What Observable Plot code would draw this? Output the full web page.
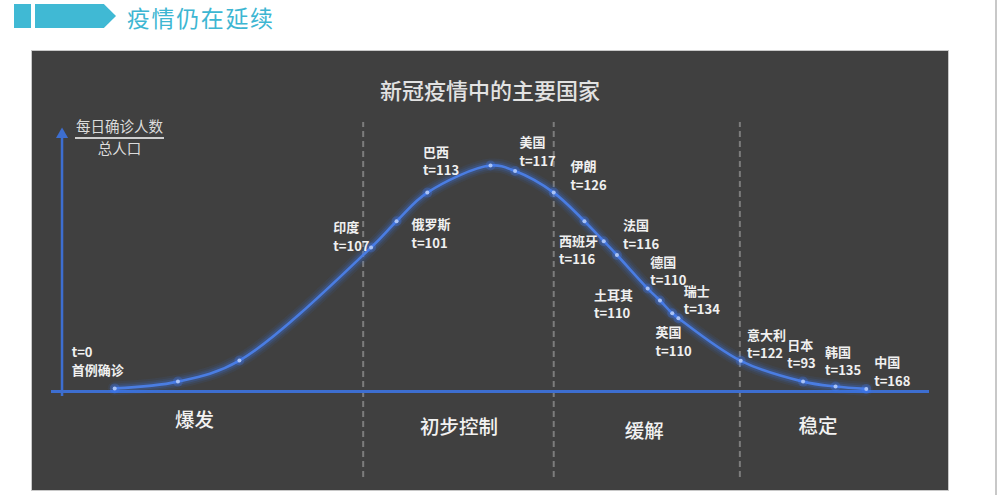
<!DOCTYPE html>
<html><head><meta charset="utf-8">
<script src="https://cdn.jsdelivr.net/npm/d3@7"></script>
<script src="https://cdn.jsdelivr.net/npm/@observablehq/plot@0.6"></script>
<style>
html,body{margin:0;padding:0;background:#fff;}
body{width:997px;height:495px;position:relative;overflow:hidden;font-family:"Noto Sans CJK SC","Noto Sans",sans-serif;}
#sq{position:absolute;left:14px;top:4px;width:17px;height:24px;background:#40b9d4}
#harrow{position:absolute;left:35px;top:4px;width:81px;height:24px;background:#40b9d4;clip-path:polygon(0 0,85% 0,100% 50%,85% 100%,0 100%)}
#htitle{position:absolute;left:127px;top:0;line-height:normal;font-size:23px;letter-spacing:1.6px;color:#3db6d2;white-space:nowrap}
#vline{position:absolute;left:995px;top:0;width:2px;height:495px;background:#c8c8c8}
#box{position:absolute;left:32px;top:51px;width:916px;height:439px;background:#404040;outline:1px solid #c8c8c8}
#ctitle{position:absolute;left:0;width:916px;top:23px;line-height:30px;text-align:center;font-size:22px;color:#e2e2e2;font-weight:500}
.yl{position:absolute;left:43px;width:89px;text-align:center;font-size:14.5px;line-height:20px;color:#dcdcdc}
#yl1{top:65px}
#yl2{top:87px}
#ylline{position:absolute;left:43px;top:86px;width:89px;height:1.5px;background:#cfcfcf}
#chart{position:absolute;left:0;top:0}
</style></head>
<body>
<div id="sq"></div><div id="harrow"></div>
<div id="htitle">疫情仍在延续</div>
<div id="vline"></div>
<div id="box">
  <div id="chart"></div>
  <div id="ctitle">新冠疫情中的主要国家</div>
  <div class="yl" id="yl1">每日确诊人数</div>
  <div id="ylline"></div>
  <div class="yl" id="yl2">总人口</div>
</div>
<script>
// Curve points (abstract time, relative daily cases / population)
const curveX = [7.2, 14.4, 21.4, 36.4, 39.3, 42.8, 50.0, 52.8, 57.2, 60.7, 62.9, 64.4, 67.9, 69.3, 70.7, 71.4, 78.5, 85.6, 89.3, 92.8];
const curveY = [1.2, 3.8, 11.9, 55.4, 65.5, 76.5, 86.9, 84.8, 76.5, 65.5, 57.8, 52.5, 39.6, 35.0, 30.1, 28.2, 11.8, 3.8, 1.9, 1.0];

// Country labels
const countries = ["印度","俄罗斯","巴西","美国","伊朗","西班牙","法国","德国","土耳其","瑞士","英国","意大利","日本","韩国","中国"];
const tValues   = [107, 101, 113, 117, 126, 116, 116, 110, 110, 134, 110, 122, 93, 135, 168];
const labelX    = [32.1, 41.0, 42.3, 53.3, 59.1, 57.8, 65.1, 68.2, 61.8, 72.0, 68.8, 79.2, 83.8, 88.1, 93.7];
const labelY    = [59.3, 60.4, 88.4, 92.0, 82.8, 54.2, 60.1, 46.0, 33.4, 34.8, 18.9, 18.0, 14.0, 11.3, 7.4];

// First case label
const startLabel = {name: "首例确诊", t: 0, x: 2.3, y: 11.3};

// Phases
const phases = ["爆发", "初步控制", "缓解", "稳定"];
const phaseX = [16.3, 46.4, 67.5, 87.3];
const phaseY = [-11.2, -14.0, -15.3, -13.5];
const boundaries = [35.5, 57.2, 78.4];

// Axis extents (data units)
const yAxisX = 1.2;
const yAxisRange = [-1.9, 100];
const dashRange = [-33.1, 103.5];

const curve = curveX.map((x, i) => ({x, y: curveY[i]}));
const labels = countries.map((name, i) => ({name, t: tValues[i], x: labelX[i], y: labelY[i]}));
const phaseData = phases.map((name, i) => ({name, x: phaseX[i], y: phaseY[i]}));

const FONT = '"Noto Sans CJK SC", "Noto Sans", sans-serif';
const BLUE = "#3d6ed0";
const GLOW = "#3f7cff";

const lineOpts = {x: "x", y: "y", curve: "catmull-rom", strokeLinecap: "round", strokeLinejoin: "round"};

const plot = Plot.plot({
  width: 916, height: 439,
  marginLeft: 19, marginRight: 19, marginTop: 80, marginBottom: 99,
  x: {domain: [0, 100], axis: null},
  y: {domain: [0, 100], axis: null},
  style: {background: "none", overflow: "visible", fontFamily: FONT},
  marks: [
    Plot.ruleX(boundaries, {y1: dashRange[0], y2: dashRange[1], stroke: "#7c7c7c", strokeWidth: 2, strokeDasharray: "6,4"}),
    Plot.ruleY([0], {stroke: BLUE, strokeWidth: 3}),
    Plot.ruleX([yAxisX], {y1: yAxisRange[0], y2: yAxisRange[1], stroke: BLUE, strokeWidth: 2.5}),
    Plot.dot([{x: yAxisX, y: yAxisRange[1]}], {x: "x", y: "y", symbol: "triangle", r: 4.5, fill: BLUE, stroke: "none", dy: 3}),
    // glow layers
    Plot.line(curve, {...lineOpts, stroke: GLOW, strokeWidth: 14, strokeOpacity: 0.07}),
    Plot.line(curve, {...lineOpts, stroke: GLOW, strokeWidth: 10, strokeOpacity: 0.1}),
    Plot.line(curve, {...lineOpts, stroke: GLOW, strokeWidth: 6.5, strokeOpacity: 0.18}),
    Plot.line(curve, {...lineOpts, stroke: "#4a7de2", strokeWidth: 2.6}),
    Plot.dot(curve, {x: "x", y: "y", r: 5, fill: GLOW, fillOpacity: 0.25, stroke: "none"}),
    Plot.dot(curve, {x: "x", y: "y", r: 2, fill: "#a9c3f7", stroke: "none"}),
    Plot.text(labels, {x: "x", y: "y", text: "name", textAnchor: "start", lineAnchor: "middle", dy: -9.2, fill: "#f0f0f0", fontSize: 13, fontWeight: 600, fontFamily: FONT}),
    Plot.text(labels, {x: "x", y: "y", text: d => "t=" + d.t, textAnchor: "start", lineAnchor: "middle", dy: 9.2, fill: "#f0f0f0", fontSize: 13, fontWeight: "bold", fontFamily: FONT}),
    Plot.text([startLabel], {x: "x", y: "y", text: d => "t=" + d.t, textAnchor: "start", lineAnchor: "middle", dy: -9.2, fill: "#f0f0f0", fontSize: 13, fontWeight: "bold", fontFamily: FONT}),
    Plot.text([startLabel], {x: "x", y: "y", text: "name", textAnchor: "start", lineAnchor: "middle", dy: 9.2, fill: "#f0f0f0", fontSize: 13, fontWeight: 600, fontFamily: FONT}),
    Plot.text(phaseData, {x: "x", y: "y", text: "name", textAnchor: "middle", lineAnchor: "middle", fill: "#f2f2f2", fontSize: 19.5, fontWeight: 500, fontFamily: FONT})
  ]
});
document.getElementById("chart").appendChild(plot);
</script>
</body></html>
